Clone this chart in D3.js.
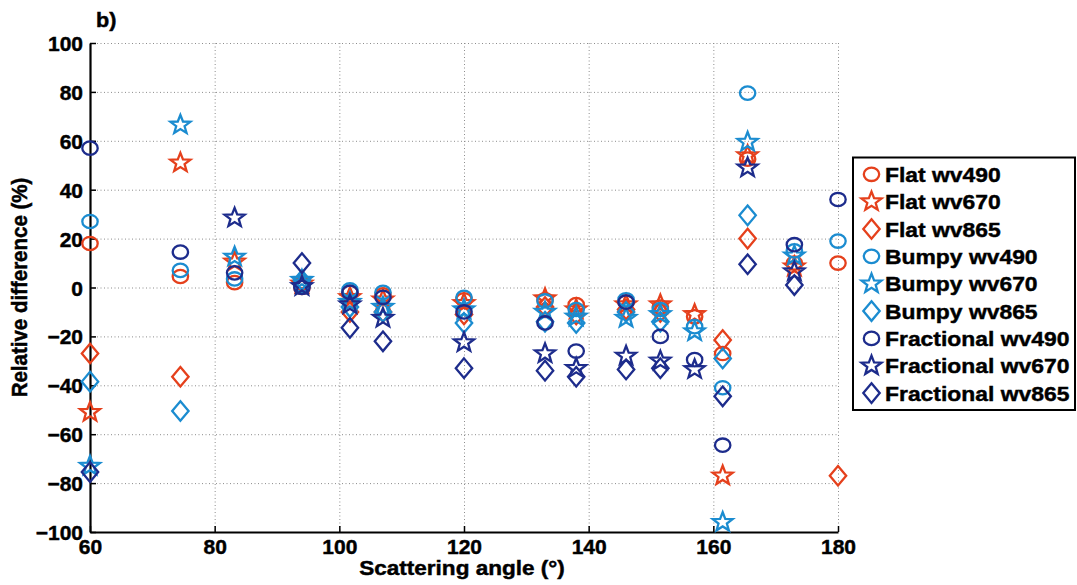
<!DOCTYPE html>
<html>
<head>
<meta charset="utf-8">
<script src="https://cdn.jsdelivr.net/npm/d3@7"></script>
<style>
html,body{margin:0;padding:0;background:#fff;}
svg{display:block;}
text{font-family:"Liberation Sans",Arial,Helvetica,sans-serif;font-weight:bold;fill:#000;stroke:#000;stroke-width:0.45px;}
</style>
</head>
<body>
<svg id="chart" width="1077" height="585"></svg>
<script>
// ---- data ----
const angles = [60, 74.5, 83.2, 94, 101.7, 107, 120, 133, 138, 146, 151.5, 157, 161.5, 165.5, 173, 180];
const flat490  = [18, 4.5, 2, 0, -2, -3, -5, -5, -7, -6, -8, -12, -27, 52.5, 10, 10];
const flat670  = [-51, 51, 10.5, 1.5, -4, -5, -6.5, -4.5, -9, -7, -7, -11, -77, 54, 8.5, null];
const flat865  = [-27, -36.5, null, 2, -10, -10, -11, -8, -11, -9, -10, null, -21.5, 20, null, -77];
const bumpy490 = [27, 7, 3.5, 1, -1, -2, -4, -5.5, -9, -5, -9, -16, -41, 79.5, 15, 19];
const bumpy670 = [-73, 66.5, 12.5, 3, -6, -8, -9, -10, -12, -12.5, -11, -18, -96, 59.5, 13, null];
const bumpy865 = [-38.5, -50.5, null, 3, -8, -10, -14.5, -14, -14.5, -10, -14, null, -29, 29.5, null, null];
const frac490  = [57, 14.5, 6, 0, -2, -4, -10, -14.5, -26, -6, -20, -29.5, -64.5, null, 17.5, 36];
const frac670  = [null, null, 28.5, 0.5, -7, -12.5, -22.5, -27, -33, -28, -30, -33.5, null, 49, 6.5, null];
const frac865  = [-75.5, null, null, 10, -16.5, -22, -33, -34, -36.5, -33.5, -33, null, -44.5, 9.5, 1, null];

const seriesNames = ["Flat wv490","Flat wv670","Flat wv865","Bumpy wv490","Bumpy wv670","Bumpy wv865","Fractional wv490","Fractional wv670","Fractional wv865"];
const seriesValues = [flat490, flat670, flat865, bumpy490, bumpy670, bumpy865, frac490, frac670, frac865];
const seriesColors = ["#E5401C","#E5401C","#E5401C","#1B8CD0","#1B8CD0","#1B8CD0","#1D2C8C","#1D2C8C","#1D2C8C"];
const seriesShapes = ["circle","star","diamond","circle","star","diamond","circle","star","diamond"];
const xTicks = [60, 80, 100, 120, 140, 160, 180];
const yTicks = [-100, -80, -60, -40, -20, 0, 20, 40, 60, 80, 100];

// ---- layout ----
const svg = d3.select("#chart");
const L = 90, R = 838, T = 43, B = 532;
const x = d3.scaleLinear().domain([60, 180]).range([L, R]);
const y = d3.scaleLinear().domain([-100, 100]).range([B, T]);

svg.append("rect").attr("width",1077).attr("height",585).attr("fill","#fff");

// grid
const grid = svg.append("g").attr("stroke","#8c8c8c").attr("stroke-width",1).attr("stroke-dasharray","1,2.5");
grid.selectAll(".gx").data(xTicks.slice(1)).enter().append("line")
  .attr("x1",d=>x(d)+0.5).attr("x2",d=>x(d)+0.5).attr("y1",T).attr("y2",B);
grid.selectAll(".gy").data(yTicks.slice(1)).enter().append("line")
  .attr("x1",L).attr("x2",R).attr("y1",d=>y(d)+0.5).attr("y2",d=>y(d)+0.5);

// axes
const xAxis = d3.axisBottom(x).tickValues(xTicks).tickSizeInner(-6).tickSizeOuter(0).tickPadding(7)
  .tickFormat(d=>d3.format("d")(d));
const yAxis = d3.axisLeft(y).tickValues(yTicks).tickSizeInner(-6).tickSizeOuter(0).tickPadding(7)
  .tickFormat(d=> (d<0? "\u2212"+Math.abs(d) : String(d)));

const gx = svg.append("g").attr("transform",`translate(0,${B})`).call(xAxis);
const gy = svg.append("g").attr("transform",`translate(${L},0)`).call(yAxis);
[gx, gy].forEach(g=>{
  g.select(".domain").attr("stroke","#000").attr("stroke-width",2.2);
  g.selectAll(".tick line").attr("stroke","#000").attr("stroke-width",1.5);
  g.selectAll(".tick text").attr("font-size",21).attr("font-weight","bold")
   .attr("font-family","'Liberation Sans',Arial,sans-serif").attr("fill","#000");
});
gx.selectAll(".tick text").attr("dy","0.71em");
gy.selectAll(".tick text").attr("dy","0.36em");

// marker shapes
function starPath(Ro, Ri){
  const pts=[];
  for(let i=0;i<10;i++){
    const a = -Math.PI/2 + i*Math.PI/5;
    const r = i%2===0 ? Ro : Ri;
    pts.push([r*Math.cos(a)*1.05, r*Math.sin(a)]);
  }
  return "M"+pts.map(p=>p[0].toFixed(2)+","+p[1].toFixed(2)).join("L")+"Z";
}
const diamondPath = "M0,-9.8L8.2,0L0,9.8L-8.2,0Z";
const star = starPath(10, 4.2);

function drawMarker(g, shape, color){
  if(shape==="circle"){
    g.append("ellipse").attr("rx",7.7).attr("ry",6.7)
      .attr("fill","none").attr("stroke",color).attr("stroke-width",2.3);
  } else if(shape==="star"){
    g.append("path").attr("d",star).attr("fill","none").attr("stroke",color).attr("stroke-width",2.3).attr("stroke-linejoin","miter");
  } else {
    g.append("path").attr("d",diamondPath).attr("fill","none").attr("stroke",color).attr("stroke-width",2.3);
  }
}

// points
const pts = svg.append("g");
seriesValues.forEach((vals, si)=>{
  const data = angles.map((a,i)=>({a, v: vals[i]})).filter(d=>d.v!==null);
  const sg = pts.append("g");
  data.forEach(d=>{
    const g = sg.append("g").attr("transform",`translate(${x(d.a)},${y(d.v)})`);
    drawMarker(g, seriesShapes[si], seriesColors[si]);
  });
});

// labels
svg.append("g").attr("transform","translate(96,27)")
  .append("text").attr("transform","scale(1.08,1)").attr("font-size",20).text("b)");
svg.append("g").attr("transform",`translate(${(L+R)/2 - 2},575)`)
  .append("text").attr("transform","scale(1.1,1)").attr("text-anchor","middle").attr("font-size",20.5)
  .text("Scattering angle (\u00B0)");
svg.append("g").attr("transform",`translate(27,${(T+B)/2})`)
  .append("text").attr("transform","rotate(-90) scale(1,1.1)").attr("text-anchor","middle").attr("font-size",20.5)
  .text("Relative difference (%)");

// legend
const lg = svg.append("g");
lg.append("rect").attr("x",853).attr("y",157.5).attr("width",222).attr("height",252.5)
  .attr("fill","#fff").attr("stroke","#000").attr("stroke-width",2);
seriesNames.forEach((name, i)=>{
  const cy = 174.3 + i*27.35;
  const mg = lg.append("g").attr("transform",`translate(871.5,${cy})`);
  drawMarker(mg, seriesShapes[i], seriesColors[i]);
  lg.append("g").attr("transform",`translate(885,${cy+7.5})`)
    .append("text").attr("transform","scale(1.09,1)").attr("font-size",21).text(name);
});
</script>
</body>
</html>
